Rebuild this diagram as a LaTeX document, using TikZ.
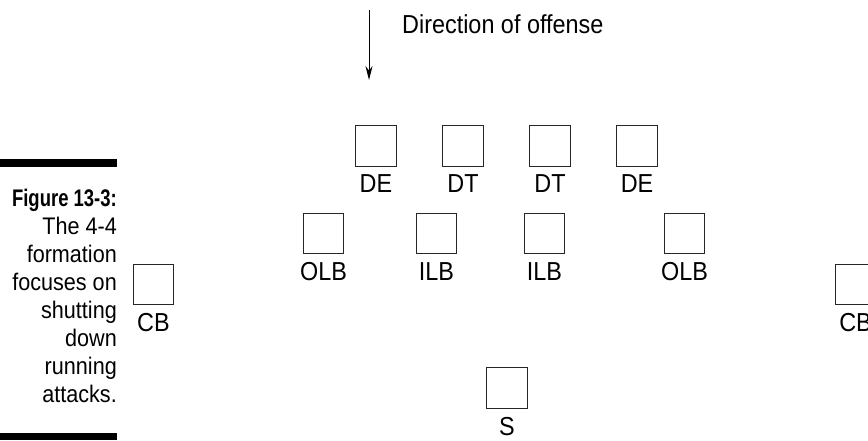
\documentclass[tikz,border=0pt]{standalone}
\usepackage{fontspec}
\setmainfont{Liberation Sans}[FakeStretch=0.9]
\newfontfamily\condsf[FakeStretch=0.77]{Liberation Sans}
\usetikzlibrary{arrows.meta, positioning}
\tikzset{
  player/.style={draw=black!85, line width=1.1pt, minimum size=40.5pt, inner sep=0pt},
  postag/.style={inner sep=0pt, font=\fontsize{26}{30}\selectfont},
  arr/.style={-{Stealth[length=14pt, width=7pt]}, line width=1pt},
  bar/.style={fill=black, draw=none},
}
\begin{document}
\begin{tikzpicture}[x=1pt, y=-1pt, node distance=8pt]
    \useasboundingbox (0,0) rectangle (868,440);
    % caption on the left
    \fill[bar] (0,159) rectangle (117,167);
    \fill[bar] (0,433) rectangle (117,440);
    \node[anchor=north east, inner sep=0pt, align=right, font=\fontsize{24}{28}\selectfont] (cap) at (117,189)
      {{\condsf\bfseries Figure 13-3:}\\The 4-4\\formation\\focuses on\\shutting\\down\\running\\attacks.};
    % direction of offense
    \coordinate (dir-top) at (369,10);
    \coordinate (dir-tip) at (369,80);
    \draw[arr] (dir-top) -- (dir-tip);
    \node[postag, anchor=base west] (dir) at (402,33) {Direction of offense};
    % line
    \node[player] (de1) at (376,146) {};
    \node[player] (dt1) at (463,146) {};
    \node[player] (dt2) at (550,146) {};
    \node[player] (de2) at (637,146) {};
    % linebackers
    \node[player] (olb1) at (323.5,233.5) {};
    \node[player] (ilb1) at (436.5,233.5) {};
    \node[player] (ilb2) at (544.5,233.5) {};
    \node[player] (olb2) at (684.5,233.5) {};
    % backs
    \node[player] (cb1) at (153.5,284.5) {};
    \node[player] (cb2) at (855.5,284.5) {};
    \node[player] (s) at (507,388) {};
    % labels
    \node[postag, below=of de1] (de1-l) {DE};
    \node[postag, below=of dt1] (dt1-l) {DT};
    \node[postag, below=of dt2] (dt2-l) {DT};
    \node[postag, below=of de2] (de2-l) {DE};
    \node[postag, below=of olb1] (olb1-l) {OLB};
    \node[postag, below=of ilb1] (ilb1-l) {ILB};
    \node[postag, below=of ilb2] (ilb2-l) {ILB};
    \node[postag, below=of olb2] (olb2-l) {OLB};
    \node[postag, below=of cb1] (cb1-l) {CB};
    \node[postag, below=of cb2] (cb2-l) {CB};
    \node[postag, below=of s] (s-l) {S};
\end{tikzpicture}
\end{document}
